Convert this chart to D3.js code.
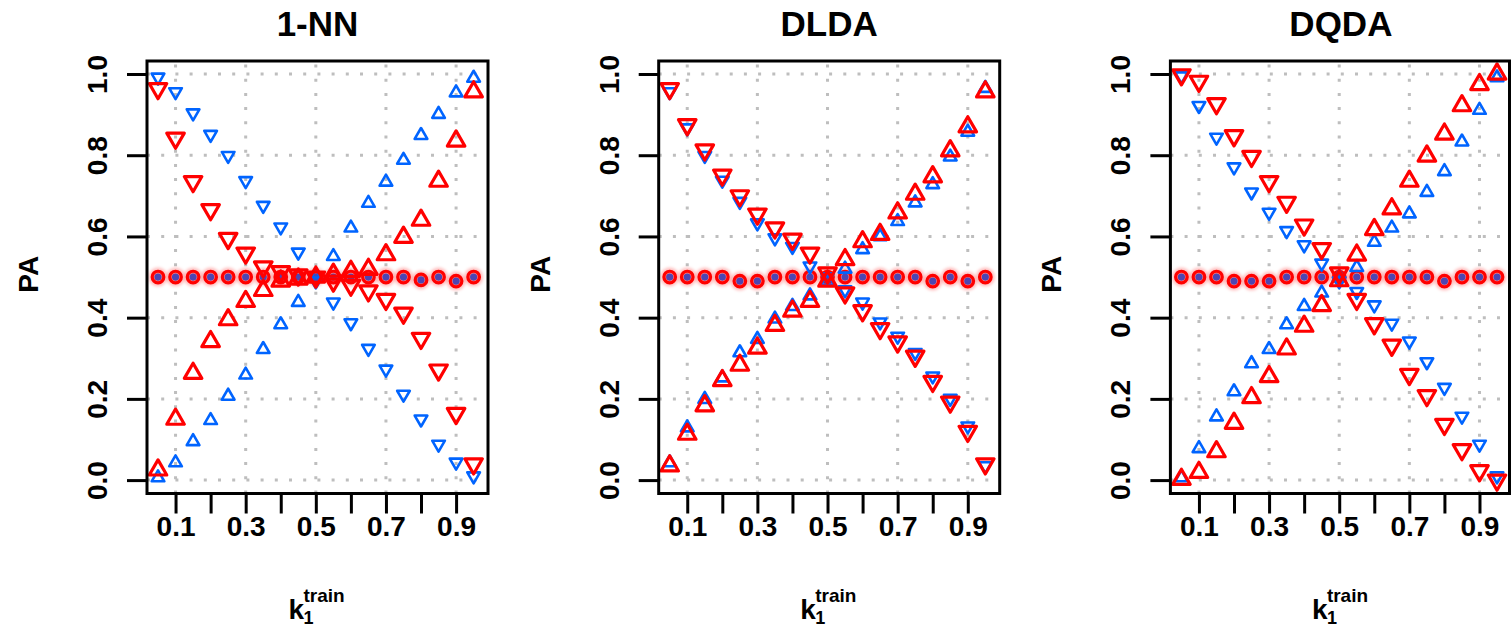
<!DOCTYPE html>
<html>
<head>
<meta charset="utf-8">
<script src="https://cdn.jsdelivr.net/npm/d3@7"></script>
<style>
  body { margin: 0; background: #fff; }
  svg { display: block; }
  text { font-family: "Liberation Sans", Arial, Helvetica, sans-serif; font-weight: bold; fill: #000; }
</style>
</head>
<body>
<svg id="chart" width="1511" height="629"></svg>
<script>
// Training proportion k1 (x positions shared by all panels)
const kTrain = [0.05, 0.10, 0.15, 0.20, 0.25, 0.30, 0.35, 0.40, 0.45, 0.50,
                0.55, 0.60, 0.65, 0.70, 0.75, 0.80, 0.85, 0.90, 0.95];

const panelTitles = ["1-NN", "DLDA", "DQDA"];

const xTicks = [0.1, 0.2, 0.3, 0.4, 0.5, 0.6, 0.7, 0.8, 0.9];
const xTickLabels = ["0.1", "0.3", "0.5", "0.7", "0.9"];
const yTicks = [0.0, 0.2, 0.4, 0.6, 0.8, 1.0];
const yTickLabels = ["0.0", "0.2", "0.4", "0.6", "0.8", "1.0"];

// 1-NN
const nnBlueUp   = [0.006, 0.043, 0.095, 0.147, 0.207, 0.259, 0.322, 0.383, 0.438, 0.500,
                    0.551, 0.621, 0.682, 0.734, 0.788, 0.849, 0.901, 0.954, 0.990];
const nnBlueDown = [0.992, 0.956, 0.904, 0.851, 0.799, 0.737, 0.676, 0.623, 0.561, 0.490,
                    0.438, 0.387, 0.324, 0.273, 0.211, 0.150, 0.088, 0.044, 0.010];
const nnRedUp    = [0.025, 0.150, 0.263, 0.341, 0.395, 0.440, 0.467, 0.490, 0.495, 0.500,
                    0.507, 0.514, 0.519, 0.555, 0.598, 0.640, 0.736, 0.835, 0.956];
const nnRedDown  = [0.964, 0.842, 0.735, 0.666, 0.595, 0.559, 0.525, 0.513, 0.505, 0.500,
                    0.490, 0.480, 0.466, 0.445, 0.411, 0.349, 0.271, 0.164, 0.040];
const nnCircle   = [0.500, 0.500, 0.500, 0.500, 0.500, 0.500, 0.500, 0.500, 0.500, 0.500,
                    0.500, 0.500, 0.500, 0.500, 0.500, 0.493, 0.500, 0.490, 0.500];

// DLDA
const dldaBlueUp   = [0.043, 0.129, 0.199, 0.252, 0.314, 0.347, 0.397, 0.428, 0.454, 0.490,
                      0.520, 0.568, 0.600, 0.637, 0.683, 0.728, 0.796, 0.857, 0.965];
const dldaBlueDown = [0.956, 0.867, 0.799, 0.738, 0.686, 0.633, 0.596, 0.575, 0.527, 0.500,
                      0.468, 0.438, 0.389, 0.354, 0.314, 0.256, 0.201, 0.133, 0.035];
const dldaRedUp    = [0.035, 0.113, 0.183, 0.245, 0.283, 0.325, 0.381, 0.416, 0.440, 0.490,
                      0.543, 0.587, 0.605, 0.658, 0.704, 0.747, 0.811, 0.870, 0.956];
const dldaRedDown  = [0.964, 0.875, 0.813, 0.751, 0.700, 0.655, 0.621, 0.593, 0.559, 0.510,
                      0.461, 0.417, 0.373, 0.340, 0.305, 0.243, 0.192, 0.120, 0.040];
const dldaCircle   = [0.500, 0.500, 0.500, 0.500, 0.490, 0.490, 0.500, 0.500, 0.500, 0.500,
                      0.500, 0.500, 0.500, 0.500, 0.500, 0.490, 0.500, 0.490, 0.500];

// DQDA
const dqdaBlueUp   = [0.006, 0.078, 0.156, 0.218, 0.287, 0.322, 0.383, 0.428, 0.461, 0.500,
                      0.524, 0.586, 0.621, 0.656, 0.709, 0.760, 0.833, 0.911, 0.991];
const dqdaBlueDown = [0.995, 0.922, 0.844, 0.771, 0.709, 0.659, 0.614, 0.579, 0.534, 0.490,
                      0.464, 0.431, 0.386, 0.342, 0.291, 0.228, 0.157, 0.088, 0.010];
const dqdaRedUp    = [0.002, 0.019, 0.070, 0.140, 0.203, 0.255, 0.323, 0.379, 0.430, 0.491,
                      0.554, 0.617, 0.668, 0.736, 0.798, 0.852, 0.922, 0.974, 1.000];
const dqdaRedDown  = [0.998, 0.982, 0.927, 0.848, 0.797, 0.735, 0.684, 0.628, 0.570, 0.510,
                      0.445, 0.385, 0.332, 0.260, 0.208, 0.137, 0.075, 0.023, 0.000];
const dqdaCircle   = [0.500, 0.500, 0.500, 0.490, 0.490, 0.490, 0.500, 0.500, 0.500, 0.500,
                      0.500, 0.500, 0.500, 0.500, 0.500, 0.490, 0.500, 0.500, 0.500];

const panels = [
  { title: panelTitles[0], blueUp: nnBlueUp,   blueDown: nnBlueDown,   redUp: nnRedUp,   redDown: nnRedDown,   circle: nnCircle },
  { title: panelTitles[1], blueUp: dldaBlueUp, blueDown: dldaBlueDown, redUp: dldaRedUp, redDown: dldaRedDown, circle: dldaCircle },
  { title: panelTitles[2], blueUp: dqdaBlueUp, blueDown: dqdaBlueDown, redUp: dqdaRedUp, redDown: dqdaRedDown, circle: dqdaCircle }
];

const BLUE = "#0064ff";
const RED = "#ff0000";
const GRID = "#bebebe";

// Frame geometry
const frameLeft = 147, frameW = 341, frameTop = 61, frameBottom = 493.5, panelStep = 511.7;
const xLim = [0.0186, 0.991], yLim = [-0.033, 1.032];

const svg = d3.select("#chart");
const defs = svg.append("defs");
defs.append("filter").attr("id", "soft")
  .attr("x", "-50%").attr("y", "-50%").attr("width", "200%").attr("height", "200%")
  .append("feGaussianBlur").attr("stdDeviation", 1.6);

// R-style open triangles (pch 2 / pch 6), centred on the data point
function triangle(s, up) {
  const r = 1.5551 * s, xc = 1.3468 * s, yc = 0.7776 * s;
  return up
    ? `M0,${-r}L${xc},${yc}L${-xc},${yc}Z`
    : `M0,${r}L${xc},${-yc}L${-xc},${-yc}Z`;
}

panels.forEach((p, i) => {
  const left = frameLeft + panelStep * i;
  const right = left + frameW;
  const x = d3.scaleLinear().domain(xLim).range([left, right]);
  const y = d3.scaleLinear().domain(yLim).range([frameBottom, frameTop]);
  const g = svg.append("g");

  // dotted grid
  g.append("g").selectAll("line").data(yTicks).join("line")
    .attr("x1", left).attr("x2", right)
    .attr("y1", d => y(d)).attr("y2", d => y(d))
    .attr("stroke", GRID).attr("stroke-width", 3).attr("stroke-dasharray", "3 11.2");
  g.append("g").selectAll("line").data(xTickLabels.map(Number)).join("line")
    .attr("x1", d => x(d)).attr("x2", d => x(d))
    .attr("y1", frameBottom).attr("y2", frameTop)
    .attr("stroke", GRID).attr("stroke-width", 3).attr("stroke-dasharray", "3 11.2");

  // circles at the chance level: soft halo, blue point, translucent red ring
  const circ = kTrain.map((k, j) => ({ k, v: p.circle[j] }));
  g.append("g").attr("filter", "url(#soft)").selectAll("circle").data(circ).join("circle")
    .attr("cx", d => x(d.k)).attr("cy", d => y(d.v)).attr("r", 9.5)
    .attr("fill", RED).attr("fill-opacity", 0.25);
  g.append("g").selectAll("circle").data(circ).join("circle")
    .attr("cx", d => x(d.k)).attr("cy", d => y(d.v)).attr("r", 3.6)
    .attr("fill", BLUE);
  g.append("g").selectAll("circle").data(circ).join("circle")
    .attr("cx", d => x(d.k)).attr("cy", d => y(d.v)).attr("r", 5.8)
    .attr("fill", RED).attr("fill-opacity", 0.3)
    .attr("stroke", RED).attr("stroke-width", 3.2);

  // triangles: blue underneath, red on top
  const series = [
    { vals: p.blueUp,   up: true,  col: BLUE, s: 4.7, lw: 2.6 },
    { vals: p.blueDown, up: false, col: BLUE, s: 4.7, lw: 2.6 },
    { vals: p.redUp,    up: true,  col: RED,  s: 6.5, lw: 3.2 },
    { vals: p.redDown,  up: false, col: RED,  s: 6.5, lw: 3.2 }
  ];
  series.forEach(sr => {
    g.append("g").selectAll("path").data(kTrain.map((k, j) => ({ k, v: sr.vals[j] }))).join("path")
      .attr("transform", d => `translate(${x(d.k)},${y(d.v)})`)
      .attr("d", triangle(sr.s, sr.up))
      .attr("fill", "none").attr("stroke", sr.col)
      .attr("stroke-width", sr.lw).attr("stroke-linejoin", "round");
  });

  // frame
  const frameRight = Math.min(right, 1509.5);
  g.append("rect")
    .attr("x", left).attr("y", frameTop)
    .attr("width", frameRight - left).attr("height", frameBottom - frameTop)
    .attr("fill", "none").attr("stroke", "#000").attr("stroke-width", 3);

  // x axis
  const xAxis = d3.axisBottom(x).tickValues(xTicks).tickSize(20).tickPadding(3)
    .tickFormat(d => { const s = d3.format(".1f")(d); return xTickLabels.includes(s) ? s : ""; });
  const gx = g.append("g").attr("transform", `translate(0,${frameBottom})`).call(xAxis);
  gx.select(".domain").remove();
  gx.selectAll(".tick line").attr("stroke", "#000").attr("stroke-width", 3);
  gx.selectAll(".tick text").attr("font-size", 28).attr("font-family", null).attr("fill", "#000");

  // y axis with rotated labels
  const yAxis = d3.axisLeft(y).tickValues(yTicks).tickSize(20)
    .tickFormat((d, j) => yTickLabels[j]);
  const gy = g.append("g").attr("transform", `translate(${left},0)`).call(yAxis);
  gy.select(".domain").remove();
  gy.selectAll(".tick line").attr("stroke", "#000").attr("stroke-width", 3);
  gy.selectAll(".tick text")
    .attr("font-size", 28).attr("font-family", null).attr("fill", "#000")
    .attr("x", null).attr("dy", null)
    .attr("text-anchor", "middle")
    .attr("transform", "translate(-40,0) rotate(-90)");

  // title
  const cx = (left + right) / 2;
  g.append("text").attr("x", cx).attr("y", 36)
    .attr("text-anchor", "middle").attr("font-size", 35).text(p.title);

  // y label
  g.append("text")
    .attr("transform", `translate(${left - 109},${(frameTop + frameBottom) / 2 - 3}) rotate(-90)`)
    .attr("text-anchor", "middle").attr("font-size", 28).text("PA");

  // x label: k with subscript 1 and superscript train
  const kx = cx - 29;
  g.append("text").attr("x", kx).attr("y", 619).attr("font-size", 28).text("k");
  g.append("text").attr("x", kx + 15).attr("y", 602).attr("font-size", 19).text("train");
  g.append("text").attr("x", kx + 15).attr("y", 624).attr("font-size", 18).text("1");
});
</script>
</body>
</html>
